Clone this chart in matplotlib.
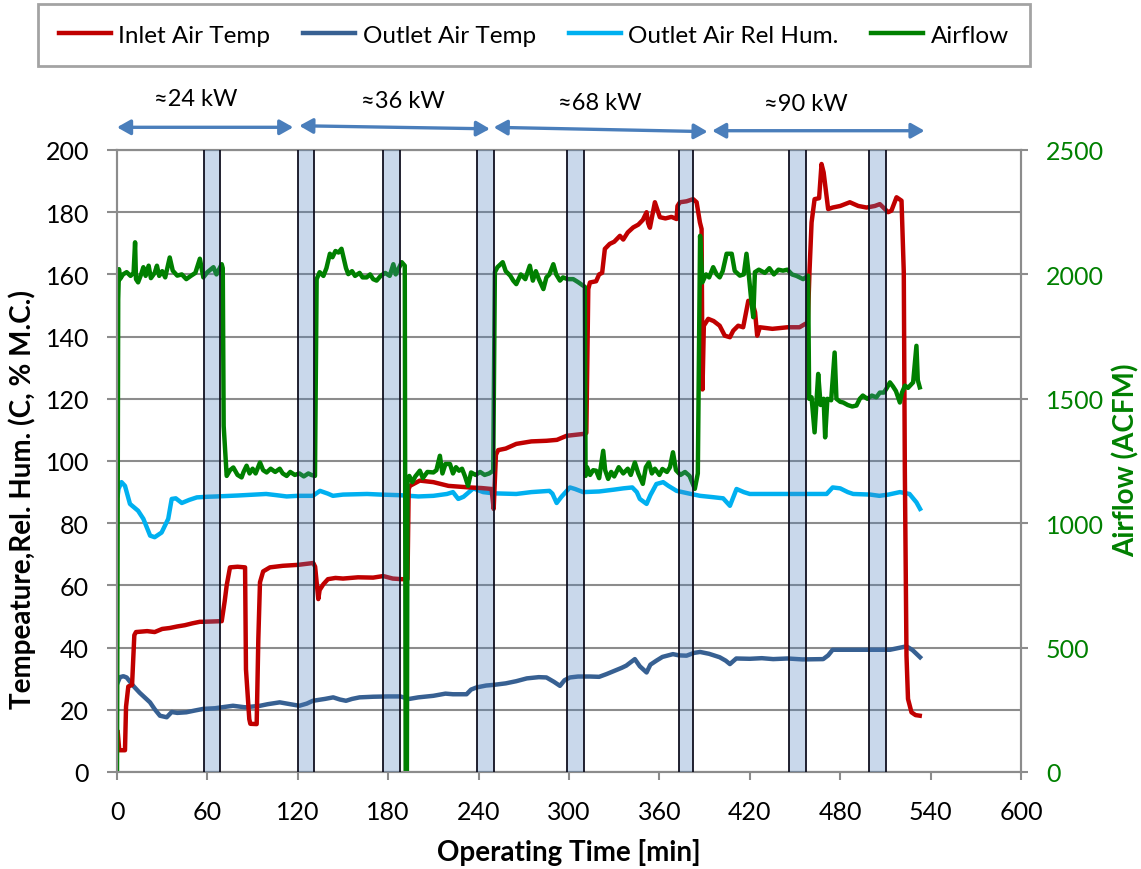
import matplotlib
matplotlib.use("Agg")
import matplotlib.pyplot as plt

plt.rcParams["font.family"] = ["Lato", "DejaVu Sans"]

# Inlet air temperature [C]
inlet_t = [0.5, 1.5, 5.3, 6.0, 7.5, 10.0, 11.5, 12.6, 20, 25, 30, 35, 40, 45, 50, 55, 57.3, 69.5,
           71.5, 72.8, 75, 80, 85, 85.6, 87.8, 88.5, 92.7, 93.8, 94.9, 97, 101.5, 110, 120, 130.3,
           131.5, 133.6, 134.5, 137, 140, 145, 150, 160, 170, 176.7, 183, 189, 192.8, 193.6, 194.4,
           201, 210, 220, 234, 242, 248.6, 250.0, 251.5, 253, 258, 265, 275, 285, 292, 298.4, 309.4,
           311.5, 312.8, 313.9, 318, 320, 322, 323.8, 327, 330, 333.8, 336, 339, 342.6, 346, 349,
           351.5, 352.5, 353.7, 357, 360.3, 364, 368, 371.4, 372, 373.6, 378, 382.4, 384.7, 386.9,
           388, 388.6, 389.5, 392.4, 396, 400, 403.4, 406.8, 409, 412.3, 415.6, 419, 422, 423.5,
           424.9, 426.7, 435, 445, 453, 456.5, 458.5, 459.6, 461, 463, 466, 467.6, 469, 472, 475,
           480, 486.4, 492, 497.5, 503, 506.3, 511.8, 514, 517.4, 520.7, 522.2, 522.9, 524, 525,
           527.3, 530, 532.8]
inlet_v = [12.8, 7, 7, 21, 27.5, 28, 44, 45, 45.3, 45.0, 46, 46.3, 46.8, 47.2, 47.8, 48.3, 48.3, 48.5,
           55, 60, 65.8, 66, 65.8, 33, 17, 15.5, 15.4, 42.8, 61, 64.5, 65.8, 66.3, 66.6, 67.2,
           66, 55.6, 58.5, 60.4, 62, 62.4, 62.2, 62.6, 62.5, 63, 62.2, 62, 62, 91, 92,
           93.7, 93.2, 92, 91.5, 91.3, 91, 84.6, 102, 103.5, 104, 105.5, 106.3, 106.5, 106.8, 108.1, 108.7,
           109, 155.3, 157.4, 157.8, 160, 160.5, 168.2, 169.8, 170.5, 172.4, 171.2, 173.5, 175.1, 176, 177.5,
           180, 176.5, 175, 183.2, 178.4, 178, 178.5, 177.8, 182, 183.2, 183.5, 184.2, 183.2, 176.7,
           174.6, 123, 143.5, 145.7, 145, 143.5, 140.3, 139.8, 141.9, 143.5, 143, 151.5, 150.5, 147.8,
           140.3, 143, 142.5, 143, 143, 144, 144.5, 160.7, 176.7, 184.2, 184.5, 195.5, 192.8, 181, 181.5,
           182, 183.2, 182, 181.5, 182, 182.6, 180, 180.5, 184.8, 183.7, 160.7, 97, 37.4, 23.5,
           19.2, 18.3, 18.1]

# Outlet air temperature [C]
outlet_t = [0.5, 2, 4.2, 6.4, 10.8, 15, 21.9, 25, 28.5, 33, 36.3, 40, 46, 52, 57.3, 65, 77, 85, 95,
            100, 108, 115, 121, 126, 130, 138, 143.5, 148, 152, 156, 161, 170, 180, 188, 194, 200,
            210, 218, 223, 232, 235, 238.7, 245, 249.7, 258, 265, 272, 280, 285, 290, 294, 297,
            300.6, 306, 313.9, 320, 325, 330, 335, 338, 343.7, 347, 351.5, 354, 358, 362, 369, 373,
            378, 383, 387, 393, 400, 404, 406.8, 411, 420, 428, 435.5, 445, 455, 468.7, 472, 475,
            490, 500, 513, 518, 524, 528, 533]
outlet_v = [28.8, 30.5, 30.8, 30.4, 27.7, 25.5, 22.4, 20.2, 18.1, 17.6, 19.3, 19.0, 19.2, 19.8, 20.3,
            20.5, 21.3, 20.8, 21.3, 21.8, 22.4, 21.8, 21.3, 22, 22.9, 23.5, 24, 23.3, 22.9, 23.5, 24,
            24.2, 24.3, 24.3, 23.5, 24, 24.5, 25.2, 25, 25, 26.5, 27.2, 27.8, 28, 28.5, 29.2, 30.1,
            30.5, 30.4, 29, 27.7, 29.5, 30.4, 30.7, 30.7, 30.6, 31.5, 32.5, 33.5, 34.2, 36.3, 34,
            32, 34.5, 35.8, 37, 37.9, 37.5, 37.4, 38.3, 38.6, 38, 36.9, 35.8, 34.7, 36.5, 36.4,
            36.6, 36.3, 36.5, 36.2, 36.3, 37.5, 39.3, 39.3, 39.3, 39.3, 39.8, 40.4, 39.2, 36.9]

# Outlet air relative humidity [%]
rh_t = [0.5, 1, 3, 5.3, 8.6, 14, 17.5, 22, 25, 29.6, 34, 36.3, 39, 43, 48, 53, 60, 66, 80, 99, 106,
        112.6, 120, 130, 134.7, 140, 143.3, 150, 166, 175, 188, 200, 210, 219, 223, 226.5, 230,
        236.5, 243, 250, 265, 275, 287, 289, 291.8, 295, 300.6, 304, 309.4, 320, 330, 336, 342,
        345, 347, 351.5, 354, 358, 362.5, 366, 371.4, 380, 387, 395, 402.3, 406.8, 411.2, 416,
        420, 440, 460, 471, 475, 480, 485, 488.6, 500, 506, 512, 519.6, 526, 530.6, 533]
rh_v = [89, 91, 93.2, 92, 86.2, 84, 81.4, 76, 75.5, 77, 81.4, 87.8, 88, 86.5, 87.5, 88.3, 88.5, 88.6,
        88.9, 89.4, 89, 88.6, 88.8, 88.8, 90.4, 89.5, 88.8, 89.2, 89.4, 89.2, 89, 88.6, 88.8, 89.4,
        90, 87.8, 88.5, 91.2, 90, 89.6, 89.4, 90, 90.4, 89.5, 86.5, 88.5, 91.5, 91, 90, 90.2, 90.8,
        91.2, 91.5, 90, 87.8, 86.2, 89, 92.6, 93.2, 92, 90.4, 89.5, 88.8, 88.4, 88, 85.6, 91, 90,
        89.4, 89.4, 89.4, 89.4, 91.5, 91.2, 90, 89.4, 89.2, 88.8, 89.2, 90, 89.4, 86.7, 84.6]

# Airflow [ACFM]
air_t = [0, 0.8, 1.3, 2, 4, 6.4, 9, 11, 12, 12.6, 14, 16, 17.5, 19, 21, 22.5, 25, 26.5, 28, 30, 32,
         35, 37, 40, 43, 46, 49, 52, 55, 57.3, 60, 64, 66, 69.5, 70.2, 70.8, 72.8, 75, 77.2, 80,
         82.7, 84, 86, 88, 90, 92, 94.9, 97, 99.3, 102, 105, 108, 110, 112.6, 115, 118, 121, 124,
         127, 129, 131.4, 132.5, 134.5, 137, 139, 141.3, 143, 145, 147, 149, 150.5, 152, 153.5,
         156, 158, 161, 163, 165.7, 168, 170, 172.3, 175, 178, 181, 183.4, 185, 187, 189, 191,
         191.6, 192.4, 192.8, 194, 196, 198, 201, 203, 206, 210, 212, 214.3, 216, 218, 221, 223,
         225, 227, 229, 231, 233, 235, 238, 241, 244, 247, 249.7, 250.8, 252.5, 256, 258, 261,
         263, 265, 268, 271, 274, 276, 278, 280, 283, 285, 287, 289.6, 291.5, 294, 296, 299,
         302.8, 306, 309.4, 310.5, 311.0, 312, 314, 316, 318, 320, 322.7, 324, 326, 328, 330,
         333, 336, 339, 341, 343.7, 346, 349, 351, 353, 355, 357, 360, 362, 365, 367, 369, 371,
         374, 377, 380, 383.5, 385.5, 387.0, 388.5, 391, 393, 395.7, 398, 400, 402, 404.6, 408,
         410, 413.4, 416, 417.8, 419.5, 421, 422.3, 423.4, 426, 430, 433, 436, 439, 442, 445,
         448, 451, 455.4, 458.7, 459.4, 461, 463, 465.4, 467, 469, 470, 471.5, 474, 476.3, 477.5,
         480, 482, 485, 488, 490.8, 493, 495, 498, 501, 504, 506.3, 509, 511, 513, 515, 517,
         519.6, 521, 523, 525, 528.4, 530.6, 531.5, 532.8]
air_v = [0, 1900, 2021, 1981, 2000, 2009, 1994, 2006, 2129, 1981, 1968, 2000, 2029, 1994, 2035, 1985,
         2006, 2035, 1994, 2013, 1988, 2068, 2015, 1995, 2000, 1981, 1994, 2006, 2063, 1988, 2009,
         2029, 2000, 2041, 2025, 1391, 1190, 1213, 1224, 1194, 1184, 1206, 1231, 1200, 1219,
         1200, 1244, 1213, 1204, 1219, 1206, 1219, 1200, 1190, 1206, 1194, 1200, 1188, 1200, 1194,
         1190, 1981, 2009, 1994, 2025, 2083, 2069, 2094, 2088, 2103, 2063, 2025, 2001, 2013, 1994,
         2006, 1988, 1988, 2000, 1981, 1975, 1994, 2006, 1994, 2041, 2000, 2025, 2049, 2035, 0, 0,
         1165, 1190, 1165, 1188, 1211, 1181, 1206, 1204, 1213, 1271, 1200, 1238, 1238, 1200, 1225,
         1211, 1219, 1188, 1150, 1204, 1194, 1206, 1194, 1200, 1211, 2009, 2029, 2049, 2013, 1995,
         1975, 1961, 2000, 1981, 2035, 1975, 2013, 1981, 1941, 1988, 2000, 2041, 2000, 1975, 1988,
         1981, 1981, 1969, 1955, 1950, 1190, 1225, 1194, 1213, 1211, 1181, 1291, 1213, 1178, 1206,
         1188, 1225, 1200, 1219, 1194, 1244, 1200, 1158, 1225, 1244, 1200, 1219, 1194, 1218, 1206,
         1225, 1285, 1213, 1194, 1206, 1190, 1138, 1200, 2155, 1968, 2000, 1988, 2029, 2000, 1988,
         2013, 2083, 2083, 2014, 1995, 2000, 2083, 1988, 1894, 1828, 2009, 2019, 2006, 2025, 2000,
         2019, 2015, 2019, 2000, 1994, 1981, 1995, 1500, 1506, 1365, 1600, 1475, 1500, 1345, 1500,
         1494, 1686, 1500, 1488, 1485, 1475, 1469, 1473, 1500, 1513, 1500, 1513, 1506, 1525, 1525,
         1544, 1566, 1550, 1531, 1485, 1525, 1553, 1544, 1566, 1713, 1575, 1546]

# Steady-state sampling windows [min]
band_start = [57.9, 120.3, 176.3, 238.9, 298.4, 372.9, 446.1, 499.2]
band_end = [68.4, 130.9, 187.8, 250.4, 310.1, 382.2, 457.2, 510.1]

# Heater power stages
stage_labels = ["\u224824 kW", "\u224836 kW", "\u224868 kW", "\u224890 kW"]
stage_from = [0, 121, 250, 395]
stage_to = [117, 247.5, 392, 536]

grid_gray = "#8C8C8C"
green = "#008000"

fig = plt.figure(figsize=(11.41, 8.70), dpi=100)
ax = fig.add_axes([117 / 1141, 97 / 870, 904 / 1141, 622 / 870])
ax2 = ax.twinx()

lw = 3.2
l1, = ax.plot(inlet_t, inlet_v, color="#C00000", lw=lw, zorder=4, label="Inlet Air Temp")
l2, = ax.plot(outlet_t, outlet_v, color="#376092", lw=lw, zorder=3, label="Outlet Air Temp")
l3, = ax.plot(rh_t, rh_v, color="#00B0F0", lw=lw, zorder=3, label="Outlet Air Rel Hum.")
l4, = ax2.plot(air_t, air_v, color=green, lw=lw, zorder=2, label="Airflow")

for s, e in zip(band_start, band_end):
    ax2.axvspan(s, e, facecolor="#4F81BD", alpha=0.3, lw=0, zorder=5)
    ax2.axvline(s, color="#101020", lw=1.3, zorder=6)
    ax2.axvline(e, color="#101020", lw=1.3, zorder=6)

ax.set_xlim(0, 600)
ax.set_ylim(0, 200)
ax2.set_ylim(0, 2500)
ax.set_xticks(range(0, 601, 60))
ax.set_yticks(range(0, 201, 20))
ax2.set_yticks(range(0, 2501, 500))

ax.grid(axis="y", color=grid_gray, lw=1.5)
ax.set_axisbelow(True)
for a in (ax, ax2):
    for sp in a.spines.values():
        sp.set_color(grid_gray)
        sp.set_linewidth(1.5)

ax.tick_params(axis="x", length=6, width=1.5, color=grid_gray, labelsize=18, pad=14)
ax.tick_params(axis="y", length=7, width=1.5, color=grid_gray, labelsize=18, pad=13)
ax2.tick_params(axis="y", length=5, width=1.5, color=grid_gray, labelsize=18, pad=13,
                labelcolor=green)

ax.set_xlabel("Operating Time [min]", fontsize=20, fontweight="bold")
ax.set_ylabel("Tempeature,Rel. Hum. (C, % M.C.)", fontsize=20, fontweight="bold")
ax2.set_ylabel("Airflow (ACFM)", fontsize=20, fontweight="bold", color=green)
ax.xaxis.set_label_coords(0.5, -0.106)
ax.yaxis.set_label_coords(-0.09, 0.44)
ax2.yaxis.set_label_coords(1.101, 0.503)

arrow_y0 = [207.3, 207.8, 207.3, 206.2]
arrow_y1 = [207.3, 206.8, 205.9, 206.2]
label_x = [52, 190, 320.6, 457.5]
label_y = [216.7, 216.0, 215.4, 214.8]
for i in range(4):
    ax.annotate("", xy=(stage_to[i], arrow_y1[i]), xytext=(stage_from[i], arrow_y0[i]),
                arrowprops=dict(arrowstyle="<|-|>,head_length=0.8,head_width=0.45",
                                color="#4A7EBB", lw=2.4, shrinkA=0, shrinkB=0),
                annotation_clip=False)
    ax.text(label_x[i], label_y[i], stage_labels[i], fontsize=17, ha="center", va="center",
            clip_on=False)

leg = fig.legend(handles=[l1, l2, l3, l4], ncol=4, loc="upper left",
                 bbox_to_anchor=(38 / 1141, 1 - 5 / 870), borderaxespad=0, fontsize=17.5,
                 frameon=True, fancybox=False, edgecolor=grid_gray, handlelength=2.15,
                 handletextpad=0.3, columnspacing=1.35, borderpad=0.85)
leg.get_frame().set_linewidth(2)

fig.savefig("out.png", dpi=100)
plt.close(fig)
